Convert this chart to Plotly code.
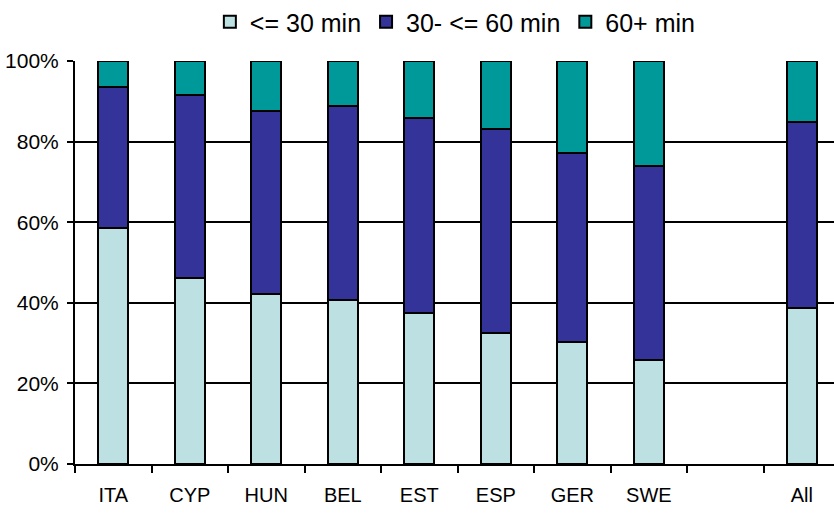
import plotly.graph_objects as go

categories = ["ITA", "CYP", "HUN", "BEL", "EST", "ESP", "GER", "SWE", " ", "All"]
series_names = ["<= 30 min", "30- <= 60 min", "60+ min"]
le30 = [58.6, 46.1, 42.2, 40.8, 37.5, 32.4, 30.3, 25.8, None, 38.8]
b30_60 = [34.9, 45.5, 45.5, 48.1, 48.3, 50.7, 46.9, 48.1, None, 46.1]
over60 = [6.5, 8.4, 12.3, 11.1, 14.2, 16.9, 22.8, 26.1, None, 15.1]
y_ticks = [0, 20, 40, 60, 80, 100]

colors = ["#BDE1E3", "#333399", "#009999"]
FONT = "Liberation Sans Narrow, Arial Narrow, Liberation Sans, Arial, sans-serif"

fig = go.Figure()
for name, vals, col in zip(series_names, [le30, b30_60, over60], colors):
    fig.add_trace(go.Bar(
        x=categories, y=vals, name=name, width=0.39,
        marker=dict(color=col, line=dict(color="black", width=2)),
    ))

fig.update_layout(
    barmode="stack",
    width=834, height=514,
    margin=dict(l=75, r=0, t=61, b=50, autoexpand=False),
    paper_bgcolor="white", plot_bgcolor="white",
    font=dict(family=FONT, color="black", size=21),
    showlegend=True,
    legend=dict(orientation="h", xref="container", yref="container",
                x=0.546, xanchor="center", y=0.957, yanchor="middle",
                font=dict(size=25, family=FONT), traceorder="normal",
                bgcolor="rgba(0,0,0,0)"),
)
fig.update_xaxes(
    type="category", categoryorder="array", categoryarray=categories,
    range=[-0.5, 9.42], showline=True, linecolor="black", linewidth=2,
    ticks="outside", tickson="boundaries", ticklen=7, tickwidth=2, tickcolor="black",
    showgrid=False, tickfont=dict(size=20, family=FONT), fixedrange=True, automargin=False,
    ticklabelstandoff=12,
)
fig.update_yaxes(
    range=[0, 100], tickvals=y_ticks, ticktext=[f"{v}%" for v in y_ticks],
    showline=True, linecolor="black", linewidth=2,
    ticks="outside", ticklen=6, tickwidth=2, tickcolor="black",
    showgrid=True, gridcolor="black", gridwidth=2, zeroline=False,
    tickfont=dict(size=21, family=FONT), automargin=False, ticklabelstandoff=4,
)

fig.write_html("out.html", config={"displayModeBar": False},
               post_script="document.body.style.margin='0';document.body.style.overflow='hidden';")
